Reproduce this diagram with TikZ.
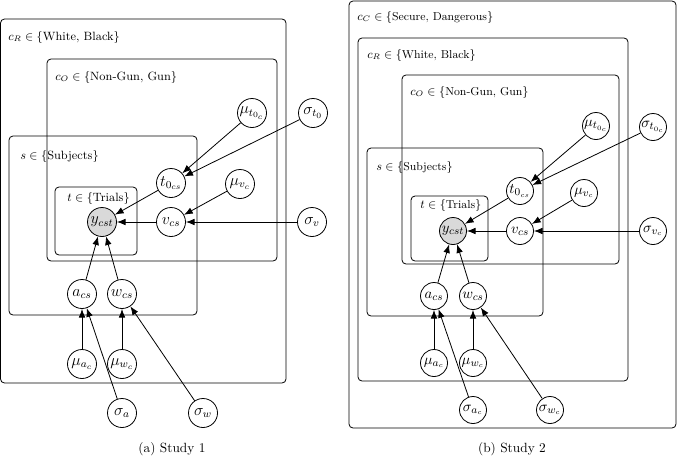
\documentclass[tikz,border=0pt]{standalone}
\usetikzlibrary{arrows.meta}
\begin{document}
\begin{tikzpicture}[x=0.75pt,y=-0.75pt,
  var/.style={circle,draw,line width=0.6pt,minimum size=21.75pt,inner sep=0pt,font=\fontsize{11.5}{13}\selectfont},
  varR/.style={var,minimum size=20.25pt,font=\fontsize{11}{12}\selectfont},
  obs/.style={fill=gray!30},
  plate/.style={draw,rounded corners=3pt,line width=0.6pt},
  platelabel/.style={anchor=west,inner sep=0pt,font=\fontsize{9}{11}\selectfont},
  platelabelR/.style={platelabel,font=\fontsize{8.6}{10}\selectfont},
  arr/.style={-{Latex[length=6.5pt,width=5pt]},line width=0.6pt},
  capt/.style={font=\fontsize{10}{12}\selectfont}]
\useasboundingbox (0,0) rectangle (677,457);

% ---------------- Study 1 ----------------
\draw[plate] (0.5,19) rectangle (286,383);
\node[platelabel] (LlR) at (8,37) {$c_R \in \{$White, Black$\}$};
\draw[plate] (47,59) rectangle (277,261);
\node[platelabel] (LlO) at (55,77) {$c_O \in \{$Non-Gun, Gun$\}$};
\draw[plate] (9,136) rectangle (197,315);
\node[platelabel] (LlS) at (20,156) {$s \in \{$Subjects$\}$};
\draw[plate] (55,187) rectangle (137,255);
\node[platelabel] (LlT) at (67,198) {$t \in \{$Trials$\}$};

\node[var,obs] (Ly) at (102,222) {$y_{cst}$};
\node[var] (Lv) at (171,222) {$v_{cs}$};
\node[var] (Lt) at (171,183) {$t_{0_{cs}}$};
\node[var] (Lmt) at (252,113) {$\mu_{t_{0_c}}$};
\node[var] (Lst) at (313,113) {$\sigma_{t_0}$};
\node[var] (Lmv) at (240,184) {$\mu_{v_c}$};
\node[var] (Lsv) at (312,222) {$\sigma_v$};
\node[var] (La) at (82,294) {$a_{cs}$};
\node[var] (Lw) at (122,294) {$w_{cs}$};
\node[var] (Lma) at (82,364) {$\mu_{a_c}$};
\node[var] (Lmw) at (122,364) {$\mu_{w_c}$};
\node[var] (Lsa) at (122,413) {$\sigma_a$};
\node[var] (Lsw) at (203,413) {$\sigma_w$};

\draw[arr] (Lt) -- (Ly);
\draw[arr] (Lv) -- (Ly);
\draw[arr] (La) -- (Ly);
\draw[arr] (Lw) -- (Ly);
\draw[arr] (Lmt) -- (Lt);
\draw[arr] (Lst) -- (Lt);
\draw[arr] (Lmv) -- (Lv);
\draw[arr] (Lsv) -- (Lv);
\draw[arr] (Lma) -- (La);
\draw[arr] (Lsa) -- (La);
\draw[arr] (Lmw) -- (Lw);
\draw[arr] (Lsw) -- (Lw);

\node[capt] (Lcap) at (172,449) {(a) Study 1};

% ---------------- Study 2 ----------------
\draw[plate] (349,1) rectangle (676,428);
\node[platelabelR] (RlC) at (357,17) {$c_C \in \{$Secure, Dangerous$\}$};
\draw[plate] (358,38) rectangle (628,381);
\node[platelabelR] (RlR) at (367,55) {$c_R \in \{$White, Black$\}$};
\draw[plate] (402,75) rectangle (619,264);
\node[platelabelR] (RlO) at (410,92) {$c_O \in \{$Non-Gun, Gun$\}$};
\draw[plate] (367,148) rectangle (543,316);
\node[platelabelR] (RlS) at (376,167) {$s \in \{$Subjects$\}$};
\draw[plate] (411,196) rectangle (488,261);
\node[platelabelR] (RlT) at (420,205) {$t \in \{$Trials$\}$};

\node[varR,obs] (Ry) at (453,231) {$y_{cst}$};
\node[varR] (Rv) at (520,231) {$v_{cs}$};
\node[varR] (Rt) at (520,191) {$t_{0_{cs}}$};
\node[varR] (Rmt) at (596,126) {$\mu_{t_{0_c}}$};
\node[varR] (Rst) at (653,127) {$\sigma_{t_{0_c}}$};
\node[varR] (Rmv) at (584,193) {$\mu_{v_c}$};
\node[varR] (Rsv) at (653,231) {$\sigma_{v_c}$};
\node[varR] (Ra) at (434,296) {$a_{cs}$};
\node[varR] (Rw) at (473,296) {$w_{cs}$};
\node[varR] (Rma) at (434,363) {$\mu_{a_c}$};
\node[varR] (Rmw) at (473,363) {$\mu_{w_c}$};
\node[varR] (Rsa) at (473,410) {$\sigma_{a_c}$};
\node[varR] (Rsw) at (550,410) {$\sigma_{w_c}$};

\draw[arr] (Rt) -- (Ry);
\draw[arr] (Rv) -- (Ry);
\draw[arr] (Ra) -- (Ry);
\draw[arr] (Rw) -- (Ry);
\draw[arr] (Rmt) -- (Rt);
\draw[arr] (Rst) -- (Rt);
\draw[arr] (Rmv) -- (Rv);
\draw[arr] (Rsv) -- (Rv);
\draw[arr] (Rma) -- (Ra);
\draw[arr] (Rsa) -- (Ra);
\draw[arr] (Rmw) -- (Rw);
\draw[arr] (Rsw) -- (Rw);

\node[capt] (Rcap) at (512,449) {(b) Study 2};
\end{tikzpicture}
\end{document}
